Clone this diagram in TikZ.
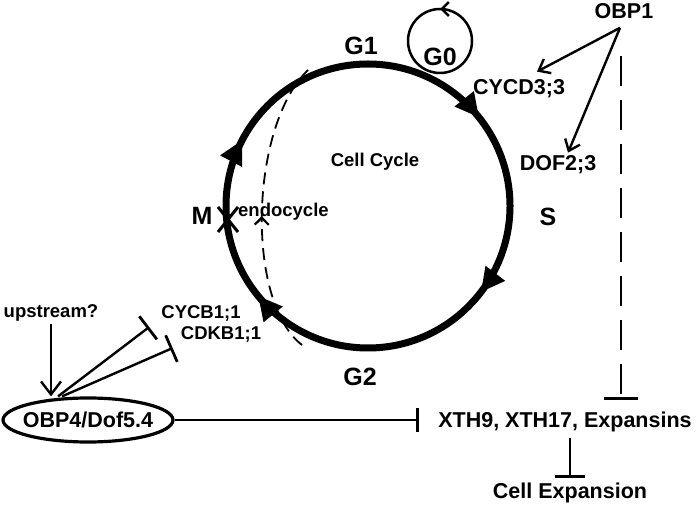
\documentclass[tikz,border=0pt]{standalone}
\usepackage{fontspec}
\setmainfont{Liberation Sans}
\usetikzlibrary{arrows.meta,decorations.markings,shapes.geometric}

\begin{document}
\begin{tikzpicture}[x=1pt,y=1pt]
          \tikzstyle{every node}+=[inner sep=0pt]
          \tikzstyle{phase}=[font=\bfseries\fontsize{25}{30}\selectfont]
          \tikzstyle{gene}=[font=\bfseries\fontsize{21.5}{26}\selectfont]
          \tikzstyle{note}=[font=\bfseries\fontsize{18.5}{22}\selectfont]
          \tikzstyle{act}=[line width=2.4pt,-{Straight Barb[length=10pt,width=16pt,line width=2.4pt]}]
          \tikzstyle{inh}=[line width=2.4pt,-{Bar[width=29pt,line width=2.8pt]}]
          \useasboundingbox (0,0) rectangle (700,511);
          \coordinate (cc) at (368,305);
          \draw [line width=7pt,postaction={decorate},decoration={markings,
              mark=at position 0.143 with {\arrow{Triangle[length=24pt,width=23pt]}},
              mark=at position 0.354 with {\arrow{Triangle[length=24pt,width=23pt]}},
              mark=at position 0.641 with {\arrow{Triangle[length=24pt,width=23pt]}},
              mark=at position 0.827 with {\arrow{Triangle[length=24pt,width=23pt]}}}]
              ([yshift=142pt]cc) arc [start angle=90,end angle=-270,radius=142pt];
          \coordinate (g0c) at (440,470);
          \draw [line width=2.5pt,postaction={decorate},decoration={markings,
              mark=at position 0.25 with {\arrow{Straight Barb[length=7pt,width=14pt,line width=2.5pt]}}}]
              (g0c) circle [radius=32pt];
          \draw [line width=1.8pt,dash pattern=on 12pt off 7pt,postaction={decorate},decoration={markings,
              mark=at position 0.47 with {\arrow{Straight Barb[length=7pt,width=14pt,line width=2.2pt]}}}]
              (302,166) .. controls (245,210) and (250,385) .. (308,441);
          \draw [line width=3pt] (218,304) -- (238,279) (238,304) -- (218,279);
          \node[phase] (g1) at (361,465) {G1};
          \node[phase] (g2) at (360,134) {G2};
          \node[phase] (m) at (202,295) {M};
          \node[phase] (s) at (548,294) {S};
          \node[phase] (g0) at (440,454) {G0};
          \node[note] (cyc) at (375,349) {Cell Cycle};
          \node[note,anchor=west] (endo) at (238,299) {endocycle};
          \node[gene] (obp1) at (624,500) {OBP1};
          \node[gene] (cycd) at (519,422) {CYCD3;3};
          \node[gene] (dof) at (558,346) {DOF2;3};
          \coordinate (fork) at ([xshift=-4pt,yshift=-9pt]obp1.south);
          \draw[act] (fork) -- ([xshift=18pt,yshift=8pt]cycd.north);
          \draw[act] (fork) -- ([xshift=10pt,yshift=3pt]dof.north);
          \node[gene] (xth) at (565,89) {XTH9, XTH17, Expansins};
          \node[gene] (cellexp) at (570,18) {Cell Expansion};
          \draw[inh,line width=2.6pt,dash pattern=on 30pt off 14pt,-{Bar[width=34pt,line width=3pt]}] ([xshift=-3pt,yshift=-37pt]obp1.south) -- ([xshift=56pt,yshift=12pt]xth.north);
          \draw[inh,-{Bar[width=30pt,line width=2.8pt]}] ([xshift=5pt,yshift=-6pt]xth.south) -- ([yshift=5pt]cellexp.north);
          \node[gene,ellipse,draw,line width=3.2pt,minimum width=170pt,minimum height=44pt,inner xsep=-12pt] (obp4) at (88,91) {OBP4/Dof5.4};
          \node[note] (up) at (51,198) {upstream?};
          \node[note] (cycb) at (201,198) {CYCB1;1};
          \node[note] (cdkb) at (221,177) {CDKB1;1};
          \draw[act,-{Straight Barb[length=13pt,width=20pt,line width=2.4pt]}] ([yshift=-2pt]up.south) -- (up.south |- obp4.north);
          \draw[inh] ([xshift=-30pt]obp4.north) -- ([xshift=-12pt,yshift=-14pt]cycb.west);
          \draw[inh] ([xshift=-26pt]obp4.north) -- ([xshift=-8pt,yshift=-14pt]cdkb.west);
          \draw[inh,-{Bar[width=24pt,line width=2.8pt]},shorten >=19pt] (obp4.east) -- (obp4.east -| xth.west);
\end{tikzpicture}
\end{document}
